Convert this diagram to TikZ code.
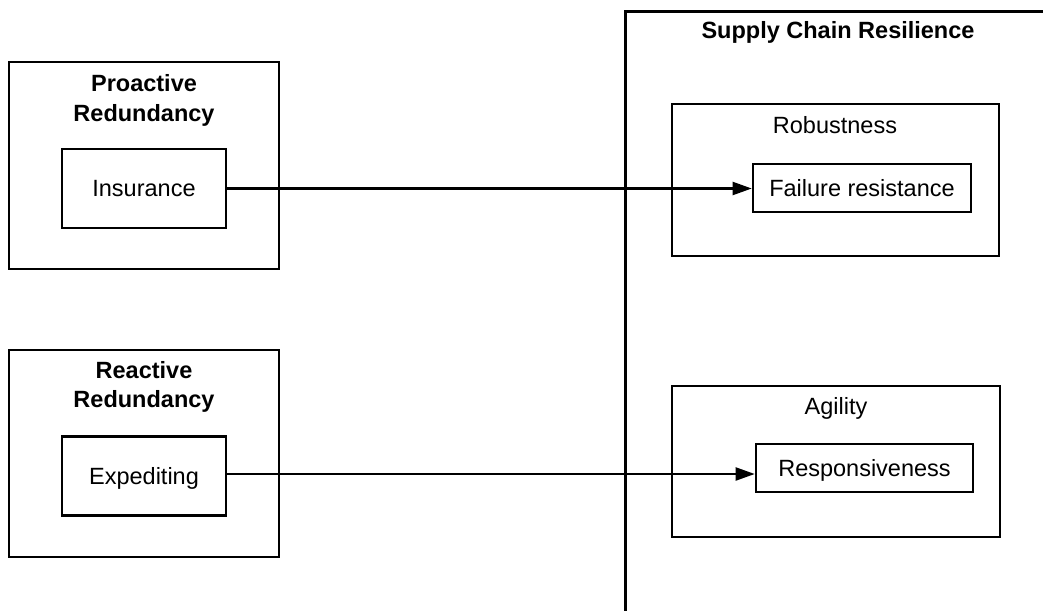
\documentclass[tikz,border=0pt]{standalone}
\usepackage{fontspec}
\setmainfont{Liberation Sans}
\usetikzlibrary{arrows.meta}
\begin{document}
\begin{tikzpicture}[x=1pt,y=-1pt,
  every node/.style={font=\fontsize{23.5}{28}\selectfont, inner sep=0pt},
  frame/.style={draw=black, line width=2.6pt, fill=none, rectangle},
  itembox/.style={frame, text height=16.8pt, text depth=0pt},
  ttl/.style={anchor=base, font=\fontsize{23.5}{28}\selectfont\bfseries},
  sub/.style={anchor=base},
  arr/.style={line width=2.1pt, -{Triangle[length=19pt,width=13pt]}}]
\useasboundingbox[fill=white] (0,0) rectangle (1043,610);
\clip (0,0) rectangle (1043,610);
% Supply Chain Resilience container (extends past the picture edges)
\node[frame, anchor=north west, minimum width=470pt, minimum height=660pt] (scr) at (624,10) {};
\node[ttl] (scrT) at (838,38) {Supply Chain Resilience};
% Robustness
\node[frame, minimum width=327pt, minimum height=152pt] (rob) at (835.5,180) {};
\node[sub] (robT) at (835,133) {Robustness};
\node[itembox, minimum width=218pt, minimum height=48pt] (fail) at (862,188) {Failure resistance};
% Agility
\node[frame, minimum width=328pt, minimum height=151pt] (agi) at (836,461.5) {};
\node[sub] (agiT) at (836,414) {Agility};
\node[itembox, minimum width=217pt, minimum height=48pt] (res) at (864.5,468) {Responsiveness};
% Proactive Redundancy
\node[frame, minimum width=270pt, minimum height=207pt] (pro) at (144,165.5) {};
\node[ttl] (proT1) at (144,91) {Proactive};
\node[ttl] (proT2) at (144,121) {Redundancy};
\node[itembox, minimum width=164pt, minimum height=79pt] (ins) at (144,188.5) {Insurance};
% Reactive Redundancy
\node[frame, minimum width=270pt, minimum height=207pt] (rea) at (144,453.5) {};
\node[ttl] (reaT1) at (144,378) {Reactive};
\node[ttl] (reaT2) at (144,407) {Redundancy};
\node[itembox, minimum width=164pt, minimum height=79pt] (exp) at (144,476) {Expediting};
% connectors
\draw[arr] ([yshift=2pt]exp.east) -- ([yshift=2pt]exp.east -| res.west);
\draw[arr] (ins.east) -- (ins.east -| fail.west);
\end{tikzpicture}
\end{document}
